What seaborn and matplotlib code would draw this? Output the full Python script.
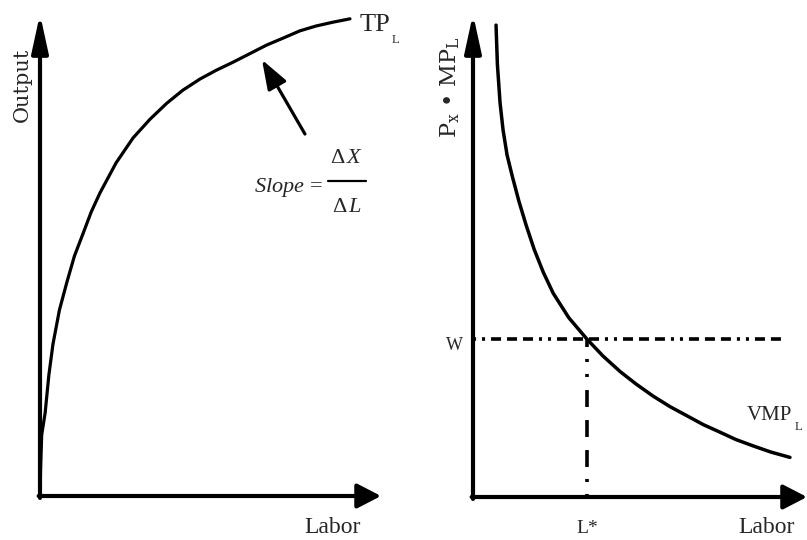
import numpy as np
import matplotlib
matplotlib.use('Agg')
import matplotlib.pyplot as plt
import seaborn as sns

# total product curve (left panel), axes run 0..10
tp_labor = [0.0, 0.02, 0.05, 0.15, 0.26, 0.38, 0.57, 0.79, 1.01, 1.26, 1.50, 1.76, 2.23, 2.73,
            3.23, 3.72, 4.19, 4.69, 5.16, 5.66, 6.16, 6.66, 7.13, 7.62, 8.09, 8.59, 9.09]
tp_output = [0.0, 0.64, 1.27, 1.72, 2.51, 3.15, 3.86, 4.44, 4.98, 5.44, 5.89, 6.29, 6.91, 7.43,
             7.82, 8.15, 8.42, 8.65, 8.83, 9.00, 9.18, 9.36, 9.50, 9.65, 9.75, 9.83, 9.90]

# value of marginal product curve (right panel)
vmp_labor = [0.69, 0.73, 0.81, 0.90, 1.02, 1.18, 1.38, 1.59, 1.83, 2.10, 2.40, 2.87, 3.41,
             3.89, 4.40, 4.88, 5.39, 5.90, 6.41, 6.89, 7.40, 7.87, 8.38, 8.92, 9.49]
vmp_value = [9.77, 8.96, 8.16, 7.60, 7.08, 6.63, 6.11, 5.63, 5.13, 4.66, 4.22, 3.71, 3.27,
             2.92, 2.60, 2.34, 2.09, 1.87, 1.68, 1.50, 1.34, 1.19, 1.06, 0.93, 0.82]

wage = 3.27
l_star = 3.41
wage_line_end = 9.34

sns.set_theme(style='white')
plt.rcParams['lines.scale_dashes'] = False
plt.rcParams['mathtext.fontset'] = 'custom'
plt.rcParams['mathtext.rm'] = 'Liberation Serif'
plt.rcParams['mathtext.it'] = 'Liberation Serif:italic'
plt.rcParams['mathtext.sf'] = 'DejaVu Serif'
plt.rcParams['font.family'] = ['Liberation Serif', 'DejaVu Serif']

W, H = 807, 540
fig = plt.figure(figsize=(W / 100, H / 100), dpi=100)
ax1 = fig.add_axes([40 / W, 44 / H, 341 / W, 482 / H])
ax2 = fig.add_axes([473 / W, 43 / H, 334 / W, 483 / H])


def draw_axes(ax, head_x, head_y):
    """Axis lines with arrow heads instead of spines."""
    ax.set_xlim(0, 10)
    ax.set_ylim(0, 10)
    ax.set_axis_off()
    ax.annotate('', xy=(1, 0), xytext=(-0.004, 0), xycoords='axes fraction',
                arrowprops=dict(arrowstyle=f'-|>,head_length={head_x[0]},head_width={head_x[1]}',
                                lw=3, color='black', mutation_scale=1,
                                shrinkA=0, shrinkB=0))
    ax.annotate('', xy=(0, 1), xytext=(0, -0.004), xycoords='axes fraction',
                arrowprops=dict(arrowstyle=f'-|>,head_length={head_y[0]},head_width={head_y[1]}',
                                lw=3, color='black', mutation_scale=1,
                                shrinkA=0, shrinkB=0))


# left panel: total product
draw_axes(ax1, (14.5, 7.5), (23, 5))
sns.lineplot(x=tp_labor, y=tp_output, ax=ax1, color='black', lw=2.3,
             sort=False, estimator=None)
ax1.text(9.38, 9.65, 'TP', fontsize=19, ha='left', va='baseline')
ax1.text(10.3, 9.40, 'L', fontsize=9, ha='left', va='baseline')
ax1.annotate('', xy=(6.51, 9.05), xytext=(7.77, 7.51),
             arrowprops=dict(arrowstyle='-|>,head_length=0.9,head_width=0.32',
                             lw=2.3, color='black', mutation_scale=20,
                             shrinkA=0, shrinkB=0))
# slope = delta X / delta L, written as a stacked fraction
ax1.text(8.30, 6.40, r'$\mathit{Slope}\,=$', fontsize=16, ha='right', va='center')
ax1.text(9.0, 7.01, r'$\Delta\,X$', fontsize=16, ha='center', va='center')
ax1.text(9.0, 5.98, r'$\Delta\,L$', fontsize=16, ha='center', va='center')
ax1.plot([8.45, 9.56], [6.54, 6.54], color='black', lw=1.6)
ax1.text(8.59, -0.77, 'Labor', fontsize=17, ha='center', va='baseline')
ax1.text(-0.53, 8.53, 'Output', family='DejaVu Serif', fontsize=15,
         rotation=90, ha='center', va='center')

# right panel: VMP and wage
draw_axes(ax2, (14.5, 7.5), (23, 5))
sns.lineplot(x=vmp_labor, y=vmp_value, ax=ax2, color='black', lw=2.5,
             sort=False, estimator=None)
ax2.plot([0, wage_line_end], [wage, wage], color='black', lw=2.6,
         linestyle=(0, (2.2, 4.3, 2.2, 4.3, 7.2, 4.3, 7.2, 4.3, 7.2, 4.3)),
         dash_capstyle='butt')
ax2.plot([l_star, l_star], [0, wage], color='black', lw=2.6,
         linestyle=(0, (2.2, 8.6, 2.2, 8.6, 12.2, 9.4, 12.2, 9.4, 12.2, 9.4)),
         dash_capstyle='butt')
ax2.text(-0.30, 3.04, 'W', fontsize=13, ha='right', va='baseline')
ax2.text(l_star, -0.745, 'L*', fontsize=14, ha='center', va='baseline')
ax2.text(8.80, -0.745, 'Labor', fontsize=17, ha='center', va='baseline')
ax2.text(8.20, 1.59, 'VMP', fontsize=15, ha='left', va='baseline')
ax2.text(9.63, 1.39, 'L', fontsize=9, ha='left', va='baseline')
ax2.text(-0.69, 8.49, r'P$_{\mathsf{x}}$ • MP$_{\mathsf{L}}$', family='DejaVu Serif',
         fontsize=16, rotation=90, ha='center', va='center')

fig.savefig('out.png', dpi=100)
